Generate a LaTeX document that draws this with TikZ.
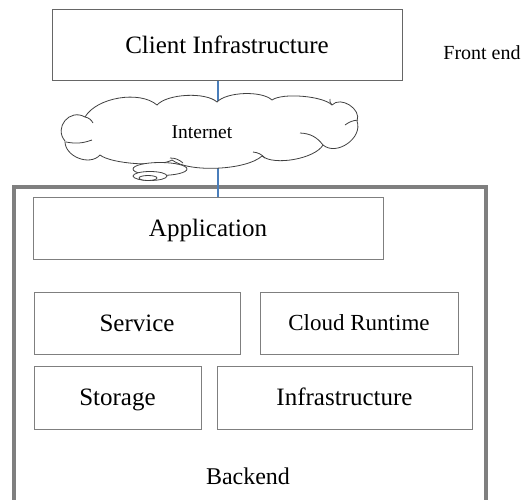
\documentclass[tikz,border=0pt]{standalone}
\usepackage{fontspec}
\setmainfont{Liberation Serif}
\definecolor{linkblue}{HTML}{4A7EBB}
\definecolor{boxgray}{HTML}{7F7F7F}
\begin{document}
\begin{tikzpicture}[x=1pt,y=-1pt,
  box/.style={draw=boxgray, line width=0.9pt, fill=white, inner sep=0pt, outer sep=0pt,
              font=\fontsize{25}{30}\selectfont, text height=16.5pt, text depth=0pt},
  lbl/.style={inner sep=0pt, outer sep=0pt, text=black, text depth=0pt},
  link/.style={draw=linkblue, line width=1.4pt},
  frame/.style={draw=boxgray, line width=4.3pt},
  cloudline/.style={draw=black!75, line width=0.8pt}]
\useasboundingbox (0,0) rectangle (523,499);

% front end
\node[box, draw=black!60, minimum width=350pt, minimum height=71pt] (client) at (227,45) {Client Infrastructure};
\node[lbl, font=\fontsize{20}{24}\selectfont, text height=13.2pt] (front) at (482,53) {Front end};

% backend frame
\draw[frame] (14,187) rectangle (486,530);
\node[box, minimum width=350pt, minimum height=62pt] (app) at (208,228) {Application};
\node[box, minimum width=206pt, minimum height=62pt] (service) at (137,323) {Service};
\node[box, minimum width=198pt, minimum height=62pt, font=\fontsize{23}{28}\selectfont, text height=15.2pt] (runtime) at (359,323) {Cloud Runtime};
\node[box, minimum width=167pt, minimum height=63pt] (storage) at (117.5,397.5) {Storage};
\node[box, minimum width=255pt, minimum height=63pt] (infra) at (344.5,397.5) {Infrastructure};
\node[lbl, font=\fontsize{24}{29}\selectfont, text height=15.9pt] (backend) at (248,477) {Backend};

% connector (hidden behind the cloud)
\coordinate (lx) at (218,0);
\draw[link] (client.south -| lx) -- (app.north -| lx);

% cloud
\path[cloudline, fill=white] (65,141)
  to[bend left=80, looseness=1.45] (85,117)
  to[bend left=50, looseness=.8] (157,105)
  to[bend left=45, looseness=.65] (217,102)
  to[bend left=45, looseness=.65] (272,100)
  to[bend left=40, looseness=.55] (332,105)
  to[bend left=80, looseness=1.1] (357,121)
  to[bend left=75, looseness=1.1] (323,145)
  to[bend left=50, looseness=.65] (262,156)
  to[bend left=40, looseness=.6] (172,160)
  to[bend left=35, looseness=.5] (100,155)
  to[bend left=70, looseness=1.05] (65,141) -- cycle;
% creases
\draw[cloudline] (85,117) to[bend left=25] (93,123);
\draw[cloudline] (66,142) to[bend right=15] (92,140);
\draw[cloudline] (170,158) to[bend left=20] (183,163);
\draw[cloudline] (253,152) to[bend left=20] (265,158);
\draw[cloudline] (300,133) to[bend left=25] (323,145);
\draw[cloudline] (345,125) to[bend left=15] (358,120);
\draw[cloudline] (332,105) to[bend left=30] (330,99);
% thought bubbles
\draw[cloudline, fill=white] (160,169) ellipse [x radius=27pt, y radius=6.5pt];
\draw[cloudline, fill=white] (150,176) ellipse [x radius=17pt, y radius=4.5pt];
\draw[cloudline, fill=white] (148,178) ellipse [x radius=9pt, y radius=2.5pt];
\node[lbl, font=\fontsize{19.5}{23}\selectfont, text height=12.9pt] (inet) at (202,132) {Internet};
\end{tikzpicture}
\end{document}
